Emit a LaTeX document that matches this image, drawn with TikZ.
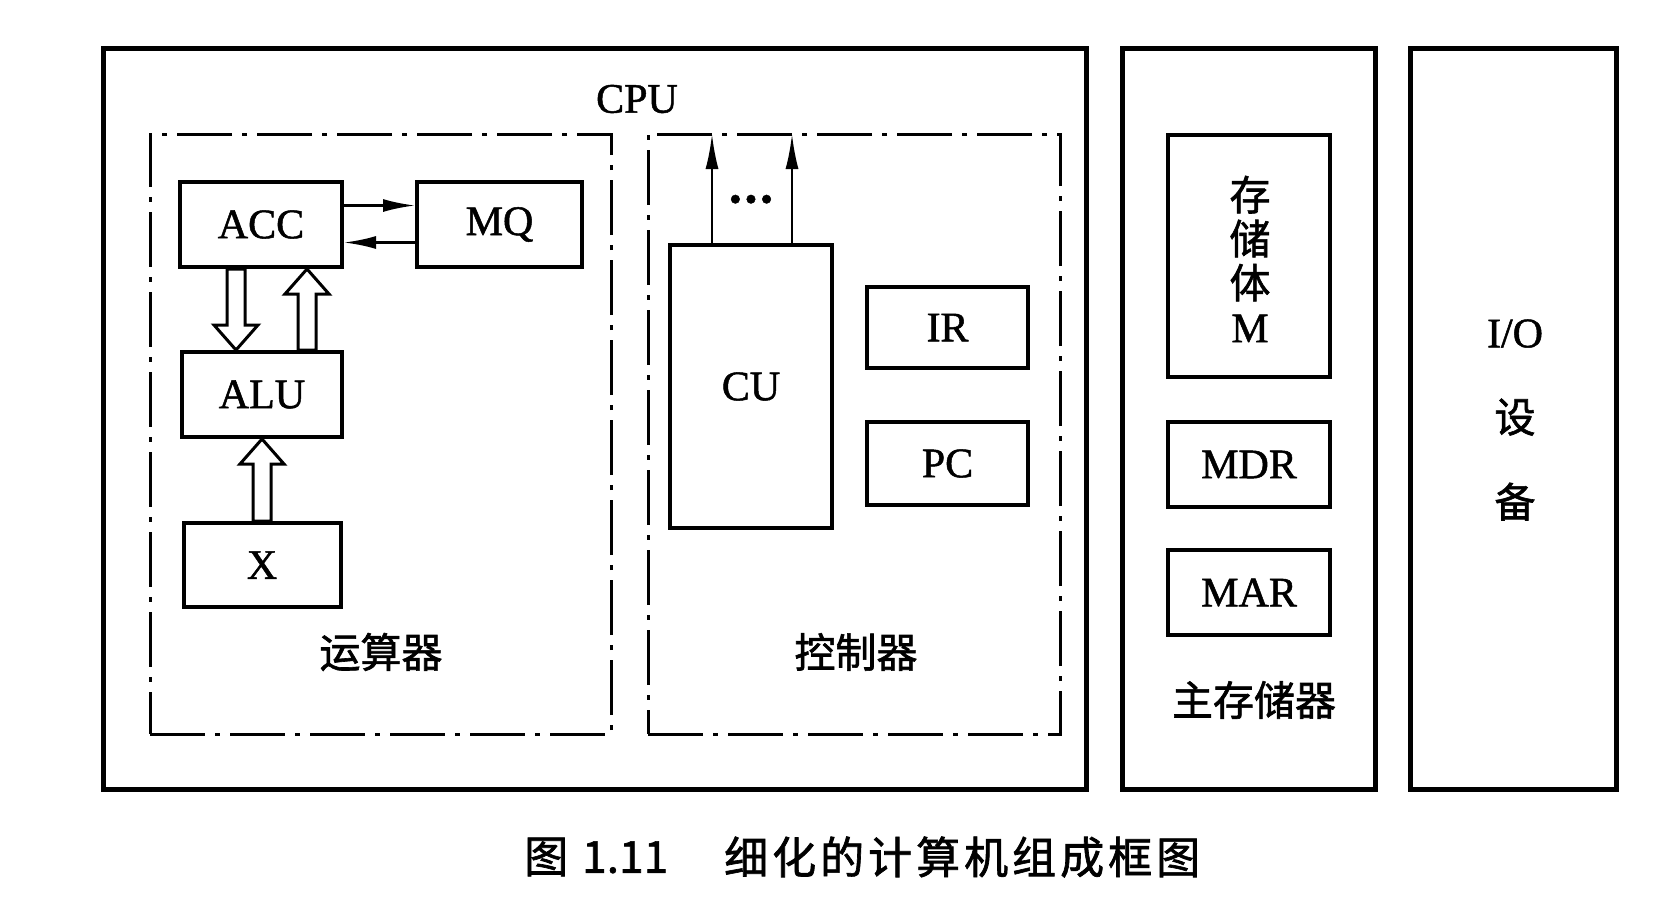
\documentclass[tikz,border=0pt]{standalone}
\usepackage{fontspec}
\setmainfont{Liberation Serif}[FakeBold=1.2]
\newfontfamily\cjk{Noto Sans CJK SC}[FakeBold=1.5]
\usetikzlibrary{arrows.meta,calc}
\begin{document}
\begin{tikzpicture}[x=1pt,y=-1pt,
  lat/.style={font=\fontsize{42}{50}\selectfont},
  zh/.style={font=\cjk\fontsize{41}{48}\selectfont},
  outerbox/.style={draw, line width=5pt, inner sep=0pt},
  box/.style={draw, line width=4pt, inner sep=0pt, lat},
  ddbox/.style={draw, line width=3pt, inner sep=0pt,
    dash pattern=on 55pt off 10pt on 5pt off 10pt},
  thinarrow/.style={line width=2.5pt, -{Latex[length=32pt,width=13pt]}},
  blk/.style={line width=3pt, fill=white, line join=miter,
    to path={let \p1=(\tikztostart), \p2=(\tikztotarget),
      \p3=($(\tikztotarget)!25pt!(\tikztostart)$) in
      (\x1-9pt,\y1) -- (\x1-9pt,\y3) -- (\x1-22pt,\y3) -- (\x2,\y2)
      -- (\x1+22pt,\y3) -- (\x1+9pt,\y3) -- (\x1+9pt,\y1) -- cycle}}]
\useasboundingbox[fill=white] (0,0) rectangle (1662,908);
% outer boxes
\node[outerbox, minimum width=983pt, minimum height=741pt] (cpu) at (594.5,418.5) {};
\node[outerbox, minimum width=253pt, minimum height=741pt] (mm) at (1248.5,419) {};
\node[outerbox, minimum width=206pt, minimum height=741pt] (io) at (1513,419) {};
% dash-dot groups
\node[ddbox, minimum width=461pt, minimum height=600pt] (ops) at (380.5,434) {};
\node[ddbox, minimum width=412pt, minimum height=600pt] (ctl) at (854,434) {};
% labels
\node[lat] (cpul) at (637,99) {CPU};
\node[zh] (opsl) at (381,652) {运算器};
\node[zh] (ctll) at (856,652) {控制器};
\node[zh] (mml) at (1254,700) {主存储器};
% operator boxes
\node[box, minimum width=162pt, minimum height=85pt] (acc) at (261,224.5) {ACC};
\node[box, minimum width=165pt, minimum height=85pt] (mq) at (499.5,224.5) {MQ};
\node[box, minimum width=160pt, minimum height=85pt] (alu) at (262,394.5) {ALU};
\node[box, minimum width=157pt, minimum height=84pt] (x) at (262,565) {X};
% controller boxes
\node[box, minimum width=162pt, minimum height=283pt] (cu) at (751,386.5) {CU};
\node[box, minimum width=161pt, minimum height=81pt] (ir) at (947.5,327.5) {IR};
\node[box, minimum width=161pt, minimum height=83pt] (pc) at (947.5,463.5) {PC};
% memory boxes
\node[box, minimum width=162pt, minimum height=242pt] (mem) at (1249,256) {};
\node[zh, align=center, font=\cjk\fontsize{41}{44}\selectfont] (meml) at (1250,259) {存\\储\\体\\{\rmfamily\fontsize{42}{44}\selectfont M}};
\node[box, minimum width=162pt, minimum height=85pt] (mdr) at (1249,464.5) {MDR};
\node[box, minimum width=162pt, minimum height=85pt] (mar) at (1249,592.5) {MAR};
% io
\node[align=center, font=\fontsize{42}{85}\selectfont] (iol) at (1515,420) {I/O\\{\cjk\fontsize{41}{85}\selectfont 设}\\{\cjk\fontsize{41}{85}\selectfont 备}};
% arrows ACC <-> MQ
\draw[thinarrow] ([yshift=19pt]acc.east) -- ([yshift=19pt]mq.west);
\draw[thinarrow] ([yshift=-18pt]mq.west) -- ([yshift=-18pt]acc.east);
% block arrows
\coordinate (c1) at (236,0);
\coordinate (c2) at (307,0);
\draw[blk] (c1 |- acc.south) to (c1 |- alu.north);
\draw[blk] (c2 |- alu.north) to (c2 |- acc.south);
\draw[blk] (x.north) to (alu.south);
% CU outputs
\coordinate (t1) at (712,134);
\coordinate (t2) at (792,134);
\draw[thinarrow, -{Latex[length=35pt,width=13pt]}] (cu.north -| t1) -- (t1);
\draw[thinarrow, -{Latex[length=35pt,width=13pt]}] (cu.north -| t2) -- (t2);
\node[font=\fontsize{36}{36}\selectfont] (dots) at (751,203) {•\kern3pt•\kern3pt•};
% caption
\node[zh, anchor=west, inner sep=0pt, font=\cjk\fontsize{44}{48}\selectfont] (cap1) at (524,857) {图\kern14pt\makebox[86pt][s]{1\hfill.\hfill 1\hfill 1}};
\node[zh, anchor=west, inner sep=0pt, font=\cjk\fontsize{44}{48}\selectfont] (cap2) at (724,857) {\makebox[476pt][s]{细\hfill 化\hfill 的\hfill 计\hfill 算\hfill 机\hfill 组\hfill 成\hfill 框\hfill 图}};
\end{tikzpicture}
\end{document}
